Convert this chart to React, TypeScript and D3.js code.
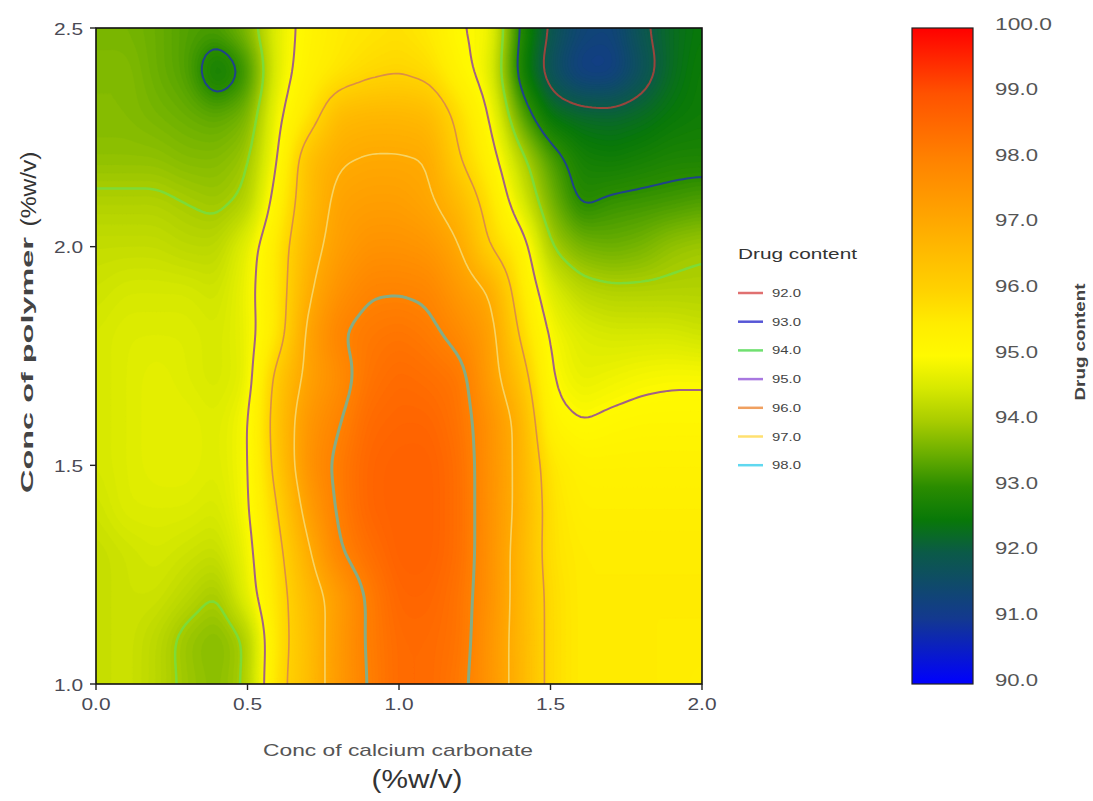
import React, { useMemo } from "react";
import * as d3 from "d3";

// ---- data: drug content, x = conc of calcium carbonate, y = conc of polymer
const xGrid = [0.0, 0.1, 0.2, 0.3, 0.4, 0.5, 0.6, 0.7, 0.8, 0.9, 1.0, 1.1, 1.2, 1.3, 1.4, 1.5, 1.6, 1.7, 1.8, 1.9, 2.0];
const yGrid = [2.5, 2.4, 2.3, 2.2, 2.1, 2.0, 1.9, 1.8, 1.7, 1.6, 1.5, 1.4, 1.3, 1.2, 1.1, 1.0];

const row250 = [93.6, 93.6, 93.5, 93.3, 93.3, 93.7, 94.7, 95.2, 95.5, 95.6, 95.7, 95.5, 95.0, 94.9, 92.9, 91.9, 91.4, 91.3, 91.9, 92.3, 92.5];
const row240 = [93.7, 93.7, 93.5, 93.3, 92.5, 93.1, 94.7, 95.3, 95.6, 95.85, 95.95, 95.8, 95.2, 94.7, 92.7, 91.7, 91.1, 91.1, 91.7, 92.3, 92.6];
const row230 = [93.7, 93.7, 93.6, 93.5, 93.4, 93.6, 94.9, 95.6, 96.6, 96.7, 96.7, 96.6, 95.8, 95.0, 93.4, 92.4, 92.25, 92.2, 92.3, 92.5, 92.6];
const row220 = [93.8, 93.8, 93.8, 93.7, 93.7, 93.9, 95.0, 96.5, 96.95, 97.05, 97.05, 97.0, 96.0, 95.3, 94.2, 93.3, 92.7, 92.6, 92.7, 92.8, 92.8];
const row210 = [94.1, 94.1, 94.1, 94.0, 93.9, 94.1, 95.3, 96.5, 97.2, 97.3, 97.3, 97.1, 96.6, 95.7, 94.6, 93.6, 92.9, 93.1, 93.15, 93.2, 93.3];
const row200 = [94.3, 94.3, 94.3, 94.2, 94.2, 94.7, 95.6, 96.7, 97.3, 97.6, 97.6, 97.5, 97.05, 95.95, 95.4, 94.0, 93.6, 93.5, 93.6, 93.85, 93.95];
const row190 = [94.4, 94.5, 94.5, 94.5, 94.4, 94.8, 95.6, 96.9, 97.6, 97.95, 97.97, 97.9, 97.4, 97.0, 95.6, 94.6, 94.2, 94.1, 94.1, 94.1, 94.1];
const row180 = [94.5, 94.6, 94.6, 94.6, 94.5, 94.75, 95.6, 97.2, 97.98, 98.2, 98.3, 98.15, 97.8, 97.3, 95.9, 94.9, 94.6, 94.5, 94.5, 94.5, 94.4];
const row170 = [94.5, 94.6, 94.7, 94.6, 94.5, 94.7, 96.3, 97.2, 97.7, 98.3, 98.5, 98.4, 98.25, 97.3, 96.4, 95.0, 94.7, 94.8, 94.9, 94.95, 94.95];
const row160 = [94.5, 94.6, 94.7, 94.7, 94.6, 94.9, 96.4, 97.5, 97.95, 98.5, 98.6, 98.6, 98.3, 97.6, 96.8, 95.2, 95.0, 95.1, 95.15, 95.15, 95.15];
const row150 = [94.5, 94.6, 94.7, 94.7, 94.6, 94.9, 96.3, 97.6, 98.15, 98.6, 98.7, 98.7, 98.4, 97.6, 96.8, 95.6, 95.3, 95.3, 95.3, 95.3, 95.3];
const row140 = [94.4, 94.6, 94.6, 94.6, 94.5, 94.9, 96.0, 97.3, 98.1, 98.6, 98.7, 98.7, 98.4, 97.6, 96.8, 95.7, 95.4, 95.4, 95.4, 95.4, 95.4];
const row130 = [94.3, 94.4, 94.5, 94.4, 94.3, 94.8, 95.8, 96.9, 97.95, 98.4, 98.7, 98.7, 98.4, 97.6, 96.7, 95.7, 95.5, 95.5, 95.5, 95.5, 95.5];
const row120 = [94.3, 94.4, 94.4, 94.2, 93.95, 94.7, 95.7, 96.6, 97.3, 98.1, 98.6, 98.6, 98.3, 97.6, 96.7, 95.8, 95.5, 95.5, 95.5, 95.5, 95.5];
const row110 = [94.3, 94.4, 94.2, 93.85, 93.7, 94.0, 95.7, 96.5, 97.4, 98.1, 98.5, 98.5, 98.3, 97.5, 96.7, 95.8, 95.5, 95.5, 95.5, 95.5, 95.5];
const row100 = [94.3, 94.4, 94.2, 93.9, 93.75, 94.05, 95.8, 96.5, 97.4, 98.05, 98.5, 98.5, 98.2, 97.5, 96.7, 95.8, 95.5, 95.5, 95.5, 95.5, 95.4];

const contentRows = [row250, row240, row230, row220, row210, row200, row190, row180, row170, row160, row150, row140, row130, row120, row110, row100];

const colorStopValues = [90, 91, 92, 92.5, 93, 93.5, 94, 94.5, 95, 95.5, 96, 97, 98, 99, 100];
const colorStopColors = ["#0000ff", "#13398f", "#0b5a48", "#087808", "#2a8c00", "#6aae00", "#a8cc00", "#d6e800", "#fffa00", "#ffec00", "#ffd200", "#ffaa00", "#ff8200", "#ff5200", "#ff0000"];

const contourLevels = [92, 93, 94, 95, 96, 97, 98];
const contourLineColors = ["#a0453c", "#1f3f8f", "#6fe04a", "#9c5a8c", "#d98a4a", "#f5d66a", "#7fae8c"];
const contourLineWidths = [2, 2, 2.5, 2, 1.6, 1.6, 3];
const legendLabels = ["92.0", "93.0", "94.0", "95.0", "96.0", "97.0", "98.0"];
const legendColors = ["#e07070", "#5656d6", "#70e070", "#a878e0", "#f0a060", "#ffe070", "#60d8f0"];

const xTicks = [0, 0.5, 1.0, 1.5, 2.0];
const yTicks = [1.0, 1.5, 2.0, 2.5];
const colorbarTicks = [100, 99, 98, 97, 96, 95, 94, 93, 92, 91, 90];

const FONT = "'Liberation Sans', Arial, sans-serif";

export default function App() {
  const L = 96, T = 28, R = 702, B = 684;
  const CBX = 912, CBW = 61;

  const xScale = d3.scaleLinear().domain([0, 2]).range([L, R]);
  const yScale = d3.scaleLinear().domain([1, 2.5]).range([B, T]);
  const cbScale = d3.scaleLinear().domain([90, 100]).range([B, T]);
  const color = d3.scaleLinear<string>().domain(colorStopValues).range(colorStopColors).interpolate(d3.interpolateRgb);

  const { fills, lines } = useMemo(() => {
    const nx = xGrid.length, ny = yGrid.length;
    const k = 8;
    const W = (nx - 1) * k + 1, H = (ny - 1) * k + 1;
    let fine = new Float64Array(W * H);
    for (let j = 0; j < H; j++) {
      const v = j / k; const j0 = Math.min(Math.floor(v), ny - 2); const tv = v - j0;
      for (let i = 0; i < W; i++) {
        const u = i / k; const i0 = Math.min(Math.floor(u), nx - 2); const tu = u - i0;
        const a = contentRows[j0][i0], b = contentRows[j0][i0 + 1];
        const c = contentRows[j0 + 1][i0], d = contentRows[j0 + 1][i0 + 1];
        fine[j * W + i] = (a * (1 - tu) + b * tu) * (1 - tv) + (c * (1 - tu) + d * tu) * tv;
      }
    }
    const r = 2;
    const blurPass = (src: Float64Array) => {
      const tmp = new Float64Array(W * H);
      for (let j = 0; j < H; j++) for (let i = 0; i < W; i++) {
        let s = 0, n = 0;
        for (let d = -r; d <= r; d++) { const ii = Math.max(0, Math.min(W - 1, i + d)); s += src[j * W + ii]; n++; }
        tmp[j * W + i] = s / n;
      }
      const out = new Float64Array(W * H);
      for (let j = 0; j < H; j++) for (let i = 0; i < W; i++) {
        let s = 0, n = 0;
        for (let d = -r; d <= r; d++) { const jj = Math.max(0, Math.min(H - 1, j + d)); s += tmp[jj * W + i]; n++; }
        out[j * W + i] = s / n;
      }
      return out;
    };
    fine = blurPass(blurPass(fine));
    const values = Array.from(fine);

    const kx = (R - L) / (W - 1), ky = (B - T) / (H - 1);
    const path = d3.geoPath(d3.geoTransform({
      point(x: number, y: number) { (this as any).stream.point(L + (x - 0.5) * kx, T + (y - 0.5) * ky); }
    }));
    const step = 0.05;
    const thr = d3.range(90, 100, step);
    const fills = d3.contours().size([W, H]).thresholds(thr)(values).map((c) => ({ d: path(c as any) || "", fill: color(c.value + step / 2) }));
    const lines = d3.contours().size([W, H]).thresholds(contourLevels)(values).map((c, idx) => ({
      d: path(c as any) || "", stroke: contourLineColors[idx], width: contourLineWidths[idx]
    }));
    return { fills, lines };
  }, []);

  const gradStops = colorStopValues.map((v, i) => ({ off: ((100 - v) / 10) * 100, c: colorStopColors[i] })).sort((a, b) => a.off - b.off);

  return (
    <svg width={1093} height={801} style={{ position: "absolute", left: 0, top: 0, background: "#fff" }} fontFamily={FONT}>
      <defs>
        <clipPath id="plotClip"><rect x={L} y={T} width={R - L} height={B - T} /></clipPath>
        <linearGradient id="cbGrad" x1="0" y1="0" x2="0" y2="1">
          {gradStops.map((s, i) => (
            <stop key={i} offset={`${s.off}%`} stopColor={s.c} />
          ))}
        </linearGradient>
      </defs>

      <g clipPath="url(#plotClip)">
        {fills.map((f, i) => <path key={i} d={f.d} fill={f.fill} stroke={f.fill} strokeWidth={0.3} />)}
        {lines.map((l, i) => <path key={"l" + i} d={l.d} fill="none" stroke={l.stroke} strokeWidth={l.width} strokeLinejoin="round" opacity={i === 2 ? 0.75 : 0.95} />)}
      </g>
      <rect x={L} y={T} width={R - L} height={B - T} fill="none" stroke="#111" strokeWidth={1.6} />

      {xTicks.map((t) => (
        <g key={"x" + t}>
          <line x1={xScale(t)} x2={xScale(t)} y1={B} y2={B + 6} stroke="#222" strokeWidth={1.4} />
          <text x={xScale(t)} y={B + 26} textAnchor="middle" fontSize={16} fill="#4a4a55" textLength={29} lengthAdjust="spacingAndGlyphs">{t.toFixed(1)}</text>
        </g>
      ))}
      {yTicks.map((t) => (
        <g key={"y" + t}>
          <line x1={L - 6} x2={L} y1={yScale(t)} y2={yScale(t)} stroke="#222" strokeWidth={1.4} />
          <text x={83} y={yScale(t) + 1} textAnchor="end" dominantBaseline="central" fontSize={16} fill="#4a4a55" textLength={29} lengthAdjust="spacingAndGlyphs">{t.toFixed(1)}</text>
        </g>
      ))}

      <text x={398} y={756} textAnchor="middle" fontSize={17} fill="#555" textLength={270} lengthAdjust="spacingAndGlyphs">Conc of calcium carbonate</text>
      <text x={417} y={788} textAnchor="middle" fontSize={25} fill="#333" textLength={91} lengthAdjust="spacingAndGlyphs">(%w/v)</text>
      <text transform="translate(27,365) rotate(-90)" textAnchor="middle" dominantBaseline="central" fontSize={17} fontWeight="bold" fill="#444" textLength={256} lengthAdjust="spacingAndGlyphs">Conc of polymer</text>
      <text transform="translate(28,189) rotate(-90)" textAnchor="middle" dominantBaseline="central" fontSize={22} fill="#333" textLength={75} lengthAdjust="spacingAndGlyphs">(%w/v)</text>

      <text x={738} y={259} fontSize={14} fill="#333" textLength={119} lengthAdjust="spacingAndGlyphs">Drug content</text>
      {legendLabels.map((lab, i) => {
        const y = 293 + i * 28.7;
        return (
          <g key={lab}>
            <line x1={738} x2={763} y1={y} y2={y} stroke={legendColors[i]} strokeWidth={2.5} />
            <text x={772} y={y} dominantBaseline="central" fontSize={11} fill="#444" textLength={29} lengthAdjust="spacingAndGlyphs">{lab}</text>
          </g>
        );
      })}

      <rect x={CBX} y={T} width={CBW} height={B - T} fill="url(#cbGrad)" stroke="#222" strokeWidth={1.2} />
      {colorbarTicks.map((t) => (
        <text key={"cb" + t} x={995} y={cbScale(t) - 4} dominantBaseline="central" fontSize={17} fill="#555"
          textLength={t === 100 ? 57 : 43} lengthAdjust="spacingAndGlyphs">{t.toFixed(1)}</text>
      ))}
      <text transform="translate(1080,342) rotate(-90)" textAnchor="middle" dominantBaseline="central" fontSize={14} fontWeight="bold" fill="#444" textLength={117} lengthAdjust="spacingAndGlyphs">Drug content</text>
    </svg>
  );
}
